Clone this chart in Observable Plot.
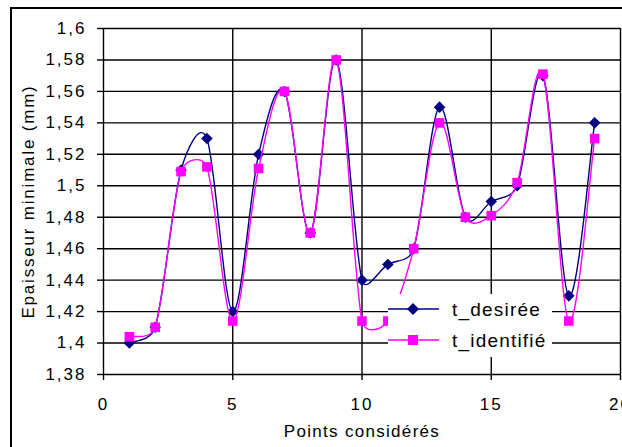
<!DOCTYPE html>
<html>
<head>
<meta charset="utf-8">
<script src="https://cdn.jsdelivr.net/npm/d3@7"></script>
<script src="https://cdn.jsdelivr.net/npm/@observablehq/plot@0.6"></script>
<style>
  html, body { margin: 0; padding: 0; background: #fff; overflow: hidden; }
  #wrap { position: relative; width: 622px; height: 447px; overflow: hidden; font-family: "Liberation Sans", Arial, sans-serif; }
  #wrap svg { position: absolute; left: 0; top: 0; }
  #border { position: absolute; left: 10px; top: 7px; width: 700px; height: 600px; border: 2px solid #000; pointer-events: none; }
  #legend { position: absolute; left: 388px; top: 294px; width: 164px; height: 63px; background: #fff; }
  .entry { position: absolute; left: 0; height: 22px; width: 164px; font-size: 19px; letter-spacing: 1.2px; line-height: 22px; color: #000; }
  .entry svg { position: absolute; left: 9px; top: 1px; }
  .entry span { position: absolute; left: 64px; top: 0; white-space: nowrap; }
</style>
</head>
<body>
<div id="wrap"></div>
<script>
// ---- data ----
const points = [1, 2, 3, 4, 5, 6, 7, 8, 9, 10, 11, 12, 13, 14, 15, 16, 17, 18, 19];
const tDesiree = [1.40, 1.41, 1.51, 1.53, 1.42, 1.52, 1.56, 1.47, 1.58, 1.44, 1.45, 1.46, 1.55, 1.48, 1.49, 1.50, 1.57, 1.43, 1.54];
const tIdentifie = [1.404, 1.41, 1.509, 1.512, 1.414, 1.511, 1.56, 1.47, 1.58, 1.414, 1.414, 1.46, 1.54, 1.48, 1.481, 1.502, 1.571, 1.414, 1.53];
const seriesNames = ["t_desirée", "t_identifié"];
const seriesColors = ["#000080", "#ff00ff"];
const xTicks = [0, 5, 10, 15, 20];
const yTicks = [1.38, 1.40, 1.42, 1.44, 1.46, 1.48, 1.50, 1.52, 1.54, 1.56, 1.58, 1.60];
const xLabel = "Points considérés";
const yLabel = "Epaisseur minimale (mm)";

const dataD = points.map((p, i) => ({x: p, y: tDesiree[i]}));
const dataI = points.map((p, i) => ({x: p, y: tIdentifie[i]}));
const fmt = d => String(+d.toFixed(2)).replace(".", ",");

// Spreadsheet-style smoothed line: Bezier segments with 1/6 tangents,
// capped at half the segment length (computed in screen space).
function smoothCurve(context) {
  let pts;
  return {
    areaStart() {}, areaEnd() {},
    lineStart() { pts = []; },
    point(x, y) { pts.push([+x, +y]); },
    lineEnd() {
      const n = pts.length;
      if (!n) return;
      context.moveTo(pts[0][0], pts[0][1]);
      if (n === 1) return;
      const dist = (a, b) => Math.hypot(a[0] - b[0], a[1] - b[1]);
      for (let i = 0; i < n - 1; i++) {
        const p0 = pts[Math.max(i - 1, 0)], p1 = pts[i], p2 = pts[i + 1], p3 = pts[Math.min(i + 2, n - 1)];
        const d12 = dist(p1, p2), d02 = dist(p0, p2), d13 = dist(p1, p3);
        const f1 = d02 > 0 ? Math.min(1 / 6, d12 / (2 * d02)) : 0;
        const f2 = d13 > 0 ? Math.min(1 / 6, d12 / (2 * d13)) : 0;
        context.bezierCurveTo(
          p1[0] + f1 * (p2[0] - p0[0]), p1[1] + f1 * (p2[1] - p0[1]),
          p2[0] - f2 * (p3[0] - p1[0]), p2[1] - f2 * (p3[1] - p1[1]),
          p2[0], p2[1]
        );
      }
    }
  };
}

const chart = Plot.plot({
  width: 622,
  height: 447,
  marginLeft: 103,
  marginRight: 2,
  marginTop: 28,
  marginBottom: 73,
  style: {fontFamily: "Liberation Sans, Arial, sans-serif", fontSize: "17px", color: "#000", background: "transparent", overflow: "visible", letterSpacing: "1.3px"},
  x: {domain: [0, 20]},
  y: {domain: [1.38, 1.6]},
  marks: [
    Plot.gridY(yTicks, {stroke: "#000", strokeOpacity: 1, strokeWidth: 1.4}),
    Plot.gridX(xTicks, {stroke: "#000", strokeOpacity: 1, strokeWidth: 1.4}),
    Plot.axisY(yTicks, {tickSize: 6, tickPadding: 11, tickFormat: fmt, label: null, strokeWidth: 1.4}),
    Plot.axisX(xTicks, {tickSize: 6, tickPadding: 17, label: null, strokeWidth: 1.4}),
    Plot.line(dataD, {x: "x", y: "y", curve: smoothCurve, stroke: seriesColors[0], strokeWidth: 1.4}),
    Plot.dot(dataD, {x: "x", y: "y", symbol: "diamond2", r: 5.2, fill: seriesColors[0], stroke: "none"}),
    Plot.line(dataI, {x: "x", y: "y", curve: smoothCurve, stroke: seriesColors[1], strokeWidth: 1.4}),
    Plot.dot(dataI, {x: "x", y: "y", symbol: "square", r: 5.4, fill: seriesColors[1], stroke: "none"}),
    Plot.text([xLabel], {text: d => d, frameAnchor: "bottom", textAnchor: "middle", lineAnchor: "middle", dy: 57, fill: "#000"}),
    Plot.text([yLabel], {text: d => d, frameAnchor: "left", textAnchor: "middle", lineAnchor: "middle", rotate: -90, dx: -75, dy: 0, fill: "#000"})
  ]
});

d3.select(chart).selectAll('g[aria-label="y-axis tick label"], g[aria-label="x-axis tick label"]').attr("letter-spacing", "2px");
d3.select(chart).selectAll('g[aria-label="text"] text').filter(function () { return this.textContent === yLabel; }).attr("letter-spacing", "1.8px");

const wrap = document.getElementById("wrap");
wrap.appendChild(chart);

// legend
const legend = document.createElement("div");
legend.id = "legend";
const rows = [16, 47];
seriesNames.forEach((name, i) => {
  const e = document.createElement("div");
  e.className = "entry";
  e.style.top = (rows[i] - 11) + "px";
  const marker = i === 0
    ? `<path d="M25,4 L31,10 L25,16 L19,10 Z" fill="${seriesColors[0]}"/>`
    : `<rect x="20" y="5" width="10" height="10" fill="${seriesColors[1]}"/>`;
  e.innerHTML = `<svg width="52" height="20"><line x1="0" y1="10" x2="51" y2="10" stroke="${seriesColors[i]}" stroke-width="1.4"/>${marker}</svg><span>${name}</span>`;
  legend.appendChild(e);
});
wrap.appendChild(legend);

const border = document.createElement("div");
border.id = "border";
wrap.appendChild(border);
</script>
</body>
</html>
